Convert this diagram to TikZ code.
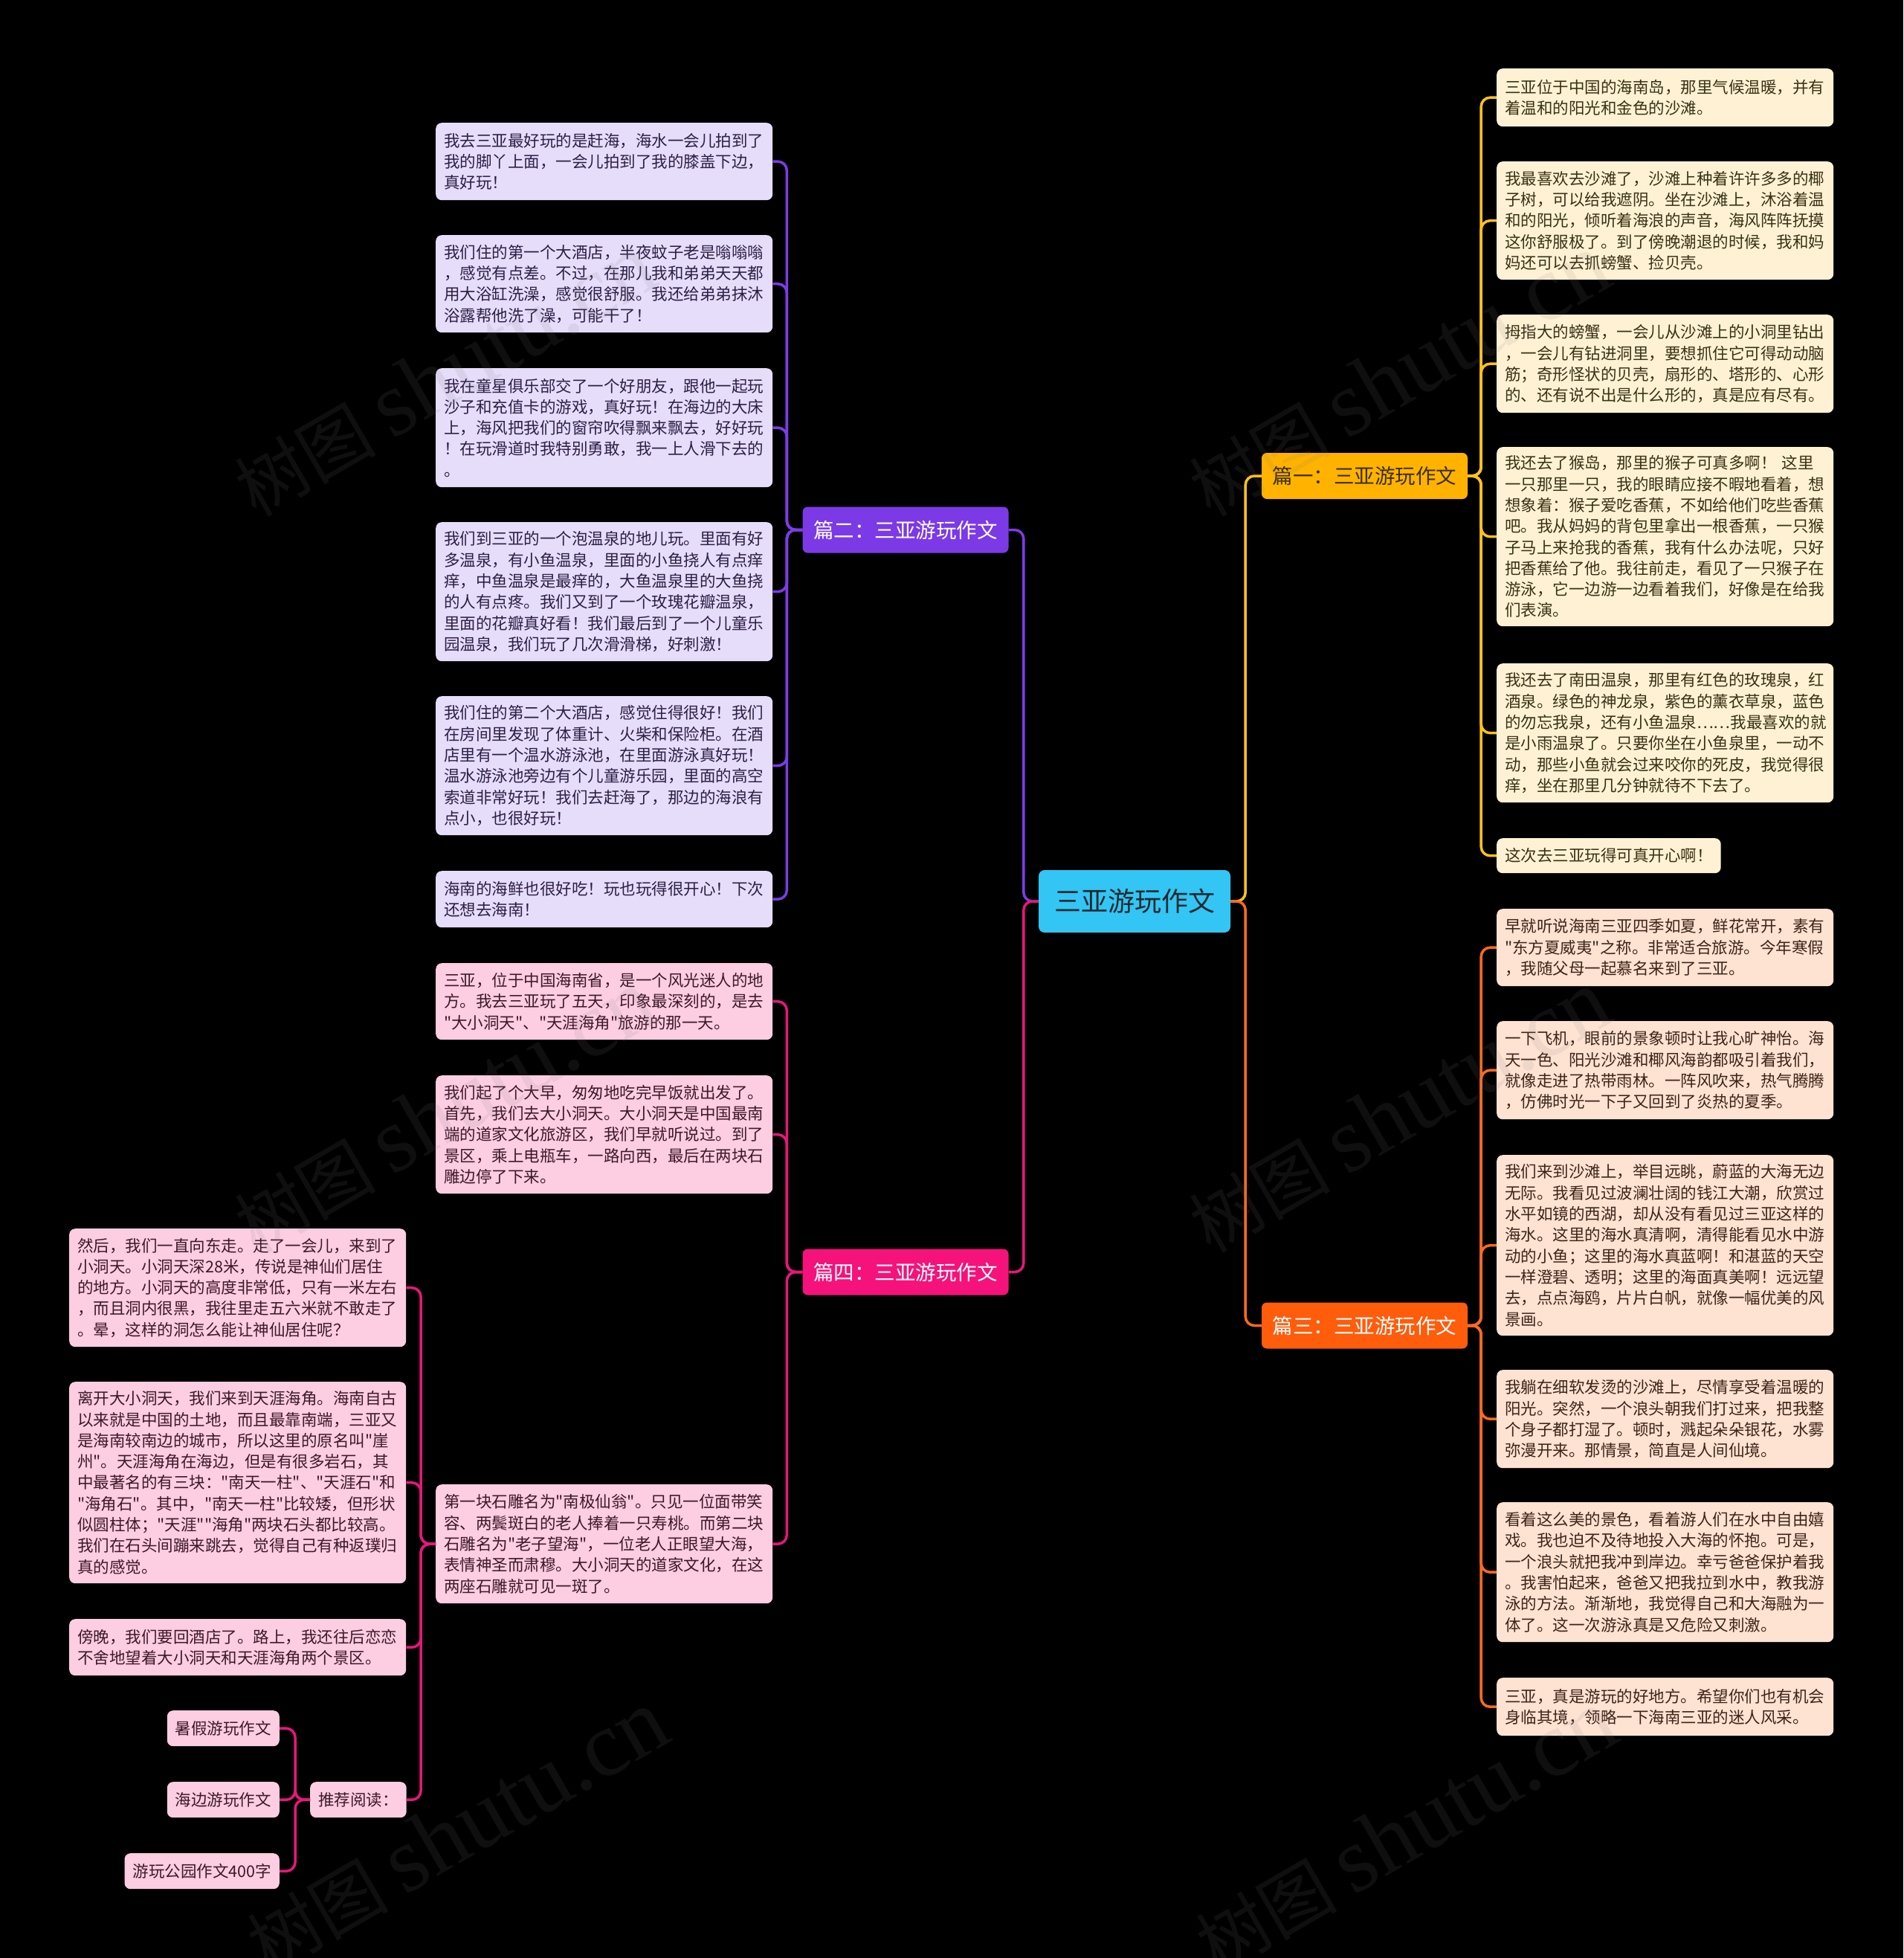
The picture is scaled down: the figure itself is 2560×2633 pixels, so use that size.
\documentclass[tikz,border=0pt]{standalone}
\usepackage{fontspec}
\setmainfont{Noto Sans CJK SC}[Ligatures=TeXOff]
\newfontfamily\wmserif{Liberation Serif}
\definecolor{cfill}{HTML}{33C5F3}
\definecolor{ctext}{HTML}{1E2A30}
\definecolor{yb}{HTML}{FFB300}
\definecolor{ybt}{HTML}{3D2E00}
\definecolor{yl}{HTML}{FFC21A}
\definecolor{yf}{HTML}{FFF2D4}
\definecolor{yt}{HTML}{3A3015}
\definecolor{ob}{HTML}{FF5C0B}
\definecolor{ol}{HTML}{FF6A1F}
\definecolor{of}{HTML}{FEE2D2}
\definecolor{ot}{HTML}{3D2418}
\definecolor{pb}{HTML}{7B3AE6}
\definecolor{pl}{HTML}{7C3CE6}
\definecolor{pf}{HTML}{E6DDFA}
\definecolor{ptx}{HTML}{2C1F45}
\definecolor{kb}{HTML}{F5127A}
\definecolor{kl}{HTML}{E6177A}
\definecolor{kf}{HTML}{FDCDE2}
\definecolor{kt}{HTML}{3D1828}
\tikzset{
  leafbox/.style={rounded corners=8pt, anchor=north west, text width=431pt,
    inner xsep=11pt, inner ysep=0pt, align=left,
    font=\fontsize{21.5pt}{28.3pt}\selectfont},
  smallbox/.style={rounded corners=8pt, inner xsep=11pt, inner ysep=0pt,
    minimum height=48pt, font=\fontsize{21.5pt}{28.3pt}\selectfont},
  yleaf/.style={leafbox, fill=yf, text=yt},
  oleaf/.style={leafbox, fill=of, text=ot},
  pleaf/.style={leafbox, fill=pf, text=ptx},
  kleaf/.style={leafbox, fill=kf, text=kt},
  branchbox/.style={rounded corners=7pt, inner sep=0pt, minimum width=277pt,
    minimum height=62pt, font=\fontsize{27.5pt}{30pt}\selectfont},
  conn/.style={line width=3.5pt, rounded corners=12pt},
  wm/.style={text=gray, opacity=0.12, inner sep=0pt, anchor=base west, rotate=30,
    font=\fontsize{95pt}{95pt}\selectfont},
}
\begin{document}
\begin{tikzpicture}[x=1pt,y=-1pt]
\fill[black] (0,0) rectangle (2560,2633);
\useasboundingbox (0,0) rectangle (2560,2633);

% central and branches
\node[rounded corners=8pt, fill=cfill, text=ctext, minimum width=258pt, minimum height=84pt,
  inner sep=0pt, font=\fontsize{36pt}{40pt}\selectfont] (c) at (1526,1212) {三亚游玩作文};
\node[branchbox, fill=yb, text=ybt] (b1) at (1835.5,640) {篇一：三亚游玩作文};
\node[branchbox, fill=ob, text=white] (b3) at (1835.5,1782.5) {篇三：三亚游玩作文};
\node[branchbox, fill=pb, text=white] (b2) at (1218,712.5) {篇二：三亚游玩作文};
\node[branchbox, fill=kb, text=white] (b4) at (1218,1710.5) {篇四：三亚游玩作文};

% yellow leaves
\node[yleaf, minimum height=78pt] (y1) at (2013,92) {三亚位于中国的海南岛，那里气候温暖，并有\\着温和的阳光和金色的沙滩。};
\node[yleaf, minimum height=159pt] (y2) at (2013,217) {我最喜欢去沙滩了，沙滩上种着许许多多的椰\\子树，可以给我遮阴。坐在沙滩上，沐浴着温\\和的阳光，倾听着海浪的声音，海风阵阵抚摸\\这你舒服极了。到了傍晚潮退的时候，我和妈\\妈还可以去抓螃蟹、捡贝壳。};
\node[yleaf, minimum height=132pt] (y3) at (2013,423) {拇指大的螃蟹，一会儿从沙滩上的小洞里钻出\\，一会儿有钻进洞里，要想抓住它可得动动脑\\筋；奇形怪状的贝壳，扇形的、塔形的、心形\\的、还有说不出是什么形的，真是应有尽有。};
\node[yleaf, minimum height=241pt] (y4) at (2013,601) {我还去了猴岛，那里的猴子可真多啊！ 这里\\一只那里一只，我的眼睛应接不暇地看着，想\\想象着：猴子爱吃香蕉，不如给他们吃些香蕉\\吧。我从妈妈的背包里拿出一根香蕉，一只猴\\子马上来抢我的香蕉，我有什么办法呢，只好\\把香蕉给了他。我往前走，看见了一只猴子在\\游泳，它一边游一边看着我们，好像是在给我\\们表演。};
\node[yleaf, minimum height=187pt] (y5) at (2013,892) {我还去了南田温泉，那里有红色的玫瑰泉，红\\酒泉。绿色的神龙泉，紫色的薰衣草泉，蓝色\\的勿忘我泉，还有小鱼温泉……我最喜欢的就\\是小雨温泉了。只要你坐在小鱼泉里，一动不\\动，那些小鱼就会过来咬你的死皮，我觉得很\\痒，坐在那里几分钟就待不下去了。};
\node[smallbox, anchor=north west, fill=yf, text=yt, minimum height=47pt] (y6) at (2013,1127) {这次去三亚玩得可真开心啊！};

% orange leaves
\node[oleaf, minimum height=104pt] (o1) at (2013,1222) {早就听说海南三亚四季如夏，鲜花常开，素有\\"东方夏威夷"之称。非常适合旅游。今年寒假\\，我随父母一起慕名来到了三亚。};
\node[oleaf, minimum height=132pt] (o2) at (2013,1373) {一下飞机，眼前的景象顿时让我心旷神怡。海\\天一色、阳光沙滩和椰风海韵都吸引着我们，\\就像走进了热带雨林。一阵风吹来，热气腾腾\\，仿佛时光一下子又回到了炎热的夏季。};
\node[oleaf, minimum height=243pt] (o3) at (2013,1553) {我们来到沙滩上，举目远眺，蔚蓝的大海无边\\无际。我看见过波澜壮阔的钱江大潮，欣赏过\\水平如镜的西湖，却从没有看见过三亚这样的\\海水。这里的海水真清啊，清得能看见水中游\\动的小鱼；这里的海水真蓝啊！和湛蓝的天空\\一样澄碧、透明；这里的海面真美啊！远远望\\去，点点海鸥，片片白帆，就像一幅优美的风\\景画。};
\node[oleaf, minimum height=132pt] (o4) at (2013,1842) {我躺在细软发烫的沙滩上，尽情享受着温暖的\\阳光。突然，一个浪头朝我们打过来，把我整\\个身子都打湿了。顿时，溅起朵朵银花，水雾\\弥漫开来。那情景，简直是人间仙境。};
\node[oleaf, minimum height=188pt] (o5) at (2013,2020) {看着这么美的景色，看着游人们在水中自由嬉\\戏。我也迫不及待地投入大海的怀抱。可是，\\一个浪头就把我冲到岸边。幸亏爸爸保护着我\\。我害怕起来，爸爸又把我拉到水中，教我游\\泳的方法。渐渐地，我觉得自己和大海融为一\\体了。这一次游泳真是又危险又刺激。};
\node[oleaf, minimum height=78pt] (o6) at (2013,2256) {三亚，真是游玩的好地方。希望你们也有机会\\身临其境，领略一下海南三亚的迷人风采。};

% purple leaves
\node[pleaf, minimum height=104pt] (p1) at (586,165) {我去三亚最好玩的是赶海，海水一会儿拍到了\\我的脚丫上面，一会儿拍到了我的膝盖下边，\\真好玩！};
\node[pleaf, minimum height=131pt] (p2) at (586,316) {我们住的第一个大酒店，半夜蚊子老是嗡嗡嗡\\，感觉有点差。不过，在那儿我和弟弟天天都\\用大浴缸洗澡，感觉很舒服。我还给弟弟抹沐\\浴露帮他洗了澡，可能干了！};
\node[pleaf, minimum height=160pt] (p3) at (586,495) {我在童星俱乐部交了一个好朋友，跟他一起玩\\沙子和充值卡的游戏，真好玩！在海边的大床\\上，海风把我们的窗帘吹得飘来飘去，好好玩\\！在玩滑道时我特别勇敢，我一上人滑下去的\\。};
\node[pleaf, minimum height=187pt] (p4) at (586,702) {我们到三亚的一个泡温泉的地儿玩。里面有好\\多温泉，有小鱼温泉，里面的小鱼挠人有点痒\\痒，中鱼温泉是最痒的，大鱼温泉里的大鱼挠\\的人有点疼。我们又到了一个玫瑰花瓣温泉，\\里面的花瓣真好看！我们最后到了一个儿童乐\\园温泉，我们玩了几次滑滑梯，好刺激！};
\node[pleaf, minimum height=187pt] (p5) at (586,936) {我们住的第二个大酒店，感觉住得很好！我们\\在房间里发现了体重计、火柴和保险柜。在酒\\店里有一个温水游泳池，在里面游泳真好玩！\\温水游泳池旁边有个儿童游乐园，里面的高空\\索道非常好玩！我们去赶海了，那边的海浪有\\点小，也很好玩！};
\node[pleaf, minimum height=76pt] (p6) at (586,1171) {海南的海鲜也很好吃！玩也玩得很开心！下次\\还想去海南！};

% pink leaves
\node[kleaf, minimum height=103pt] (k1) at (586,1295) {三亚，位于中国海南省，是一个风光迷人的地\\方。我去三亚玩了五天，印象最深刻的，是去\\"大小洞天"、"天涯海角"旅游的那一天。};
\node[kleaf, minimum height=159pt] (k2) at (586,1446) {我们起了个大早，匆匆地吃完早饭就出发了。\\首先，我们去大小洞天。大小洞天是中国最南\\端的道家文化旅游区，我们早就听说过。到了\\景区，乘上电瓶车，一路向西，最后在两块石\\雕边停了下来。};
\node[kleaf, minimum height=160pt] (k3) at (586,1996) {第一块石雕名为"南极仙翁"。只见一位面带笑\\容、两鬓斑白的老人捧着一只寿桃。而第二块\\石雕名为"老子望海"，一位老人正眼望大海，\\表情神圣而肃穆。大小洞天的道家文化，在这\\两座石雕就可见一斑了。};

\node[kleaf, minimum height=159pt] (l1) at (93,1652) {然后，我们一直向东走。走了一会儿，来到了\\小洞天。小洞天深28米，传说是神仙们居住\\的地方。小洞天的高度非常低，只有一米左右\\，而且洞内很黑，我往里走五六米就不敢走了\\。晕，这样的洞怎么能让神仙居住呢？};
\node[kleaf, minimum height=271pt] (l2) at (93,1858) {离开大小洞天，我们来到天涯海角。海南自古\\以来就是中国的土地，而且最靠南端，三亚又\\是海南较南边的城市，所以这里的原名叫"崖\\州"。天涯海角在海边，但是有很多岩石，其\\中最著名的有三块："南天一柱"、"天涯石"和\\"海角石"。其中，"南天一柱"比较矮，但形状\\似圆柱体；"天涯""海角"两块石头都比较高。\\我们在石头间蹦来跳去，觉得自己有种返璞归\\真的感觉。};
\node[kleaf, minimum height=76pt] (l3) at (93,2177) {傍晚，我们要回酒店了。路上，我还往后恋恋\\不舍地望着大小洞天和天涯海角两个景区。};

\node[smallbox, anchor=north west, fill=kf, text=kt] (r) at (417,2396) {推荐阅读：};
\node[smallbox, anchor=north east, fill=kf, text=kt] (s1) at (376,2300) {暑假游玩作文};
\node[smallbox, anchor=north east, fill=kf, text=kt] (s2) at (376,2396) {海边游玩作文};
\node[smallbox, anchor=north east, fill=kf, text=kt] (s3) at (376,2492) {游玩公园作文400字};

% connectors
\draw[conn, yl] (c.east) -- ++(20,0) |- (b1.west);
\draw[conn, ol] (c.east) -- ++(20,0) |- (b3.west);
\draw[conn, pl] (c.west) -- ++(-20,0) |- (b2.east);
\draw[conn, kl] (c.west) -- ++(-20,0) |- (b4.east);
\foreach \n in {y1,y2,y3,y4,y5,y6} \draw[conn, yl] (b1.east) -- ++(18,0) |- (\n.west);
\foreach \n in {o1,o2,o3,o4,o5,o6} \draw[conn, ol] (b3.east) -- ++(18,0) |- (\n.west);
\foreach \n in {p1,p2,p3,p4,p5,p6} \draw[conn, pl] (b2.west) -- ++(-21,0) |- (\n.east);
\foreach \n in {k1,k2,k3} \draw[conn, kl] (b4.west) -- ++(-21,0) |- (\n.east);
\foreach \n in {l1,l2,l3,r} \draw[conn, kl] (k3.west) -- ++(-20,0) |- (\n.east);
\foreach \n in {s1,s2,s3} \draw[conn, kl] (r.west) -- ++(-20,0) |- (\n.east);

% watermark
\node[wm] (w1) at (344,697) {树图 {\wmserif\fontsize{125pt}{125pt}\selectfont shutu.cn}};
\node[wm] (w2) at (344,1687) {树图 {\wmserif\fontsize{125pt}{125pt}\selectfont shutu.cn}};
\node[wm] (w3) at (361,2655) {树图 {\wmserif\fontsize{125pt}{125pt}\selectfont shutu.cn}};
\node[wm] (w4) at (1628,697) {树图 {\wmserif\fontsize{125pt}{125pt}\selectfont shutu.cn}};
\node[wm] (w5) at (1628,1687) {树图 {\wmserif\fontsize{125pt}{125pt}\selectfont shutu.cn}};
\node[wm] (w6) at (1637,2655) {树图 {\wmserif\fontsize{125pt}{125pt}\selectfont shutu.cn}};
\end{tikzpicture}
\end{document}
